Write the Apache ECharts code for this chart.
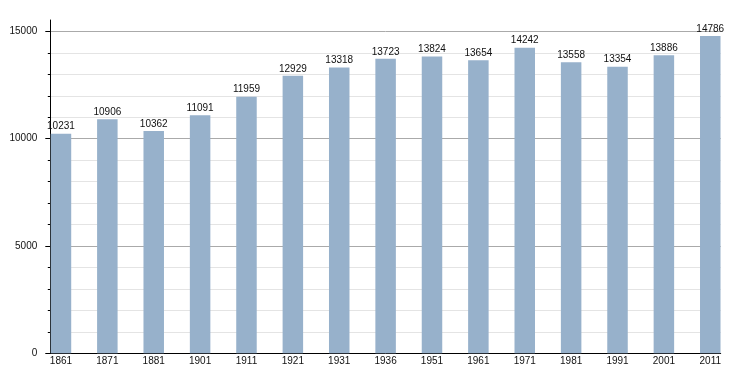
<!DOCTYPE html>
<html><head><meta charset="utf-8">
<script src="https://cdn.jsdelivr.net/npm/echarts@6/dist/echarts.min.js"></script>
<style>html,body{margin:0;padding:0;background:#fff}#c{width:750px;height:373px}</style>
</head><body><div id="c"></div>
<script>
var categories = ['1861','1871','1881','1901','1911','1921','1931','1936','1951','1961','1971','1981','1991','2001','2011'];
var population = [10231,10906,10362,11091,11959,12929,13318,13723,13824,13654,14242,13558,13354,13886,14786];
var majorTicks = [0,5000,10000,15000];
var minorTicks = [1000,2000,3000,4000,6000,7000,8000,9000,11000,12000,13000,14000];

var chart = echarts.init(document.getElementById('c'));
var font = 'Liberation Sans, Arial, sans-serif';
chart.setOption({
  animation: false,
  grid: {left: 50.3, right: 29.3, top: 20, bottom: 19.7, containLabel: false},
  xAxis: {
    type: 'value', min: -0.23, max: 14.225,
    splitLine: {show: false},
    axisLine: {show: true, onZero: false, lineStyle: {color: '#000', width: 1}},
    axisTick: {show: false},
    axisLabel: {
      customValues: categories.map(function(c, i){ return i; }),
      formatter: function(v){ return categories[Math.round(v)]; },
      color: '#111', fontSize: 10, fontFamily: font, margin: 3
    }
  },
  yAxis: [{
    type: 'value', min: 0, max: 15530, interval: 5000,
    axisLine: {show: true, onZero: false, lineStyle: {color: '#000', width: 1}},
    axisTick: {show: true, length: 5, customValues: majorTicks, lineStyle: {color: '#000'}},
    axisLabel: {customValues: majorTicks, formatter: function(v){ return String(v); }, color: '#111', fontSize: 10, fontFamily: font, margin: 13},
    splitLine: {show: true, lineStyle: {color: '#aaaaaa', width: 1}}
  }, {
    type: 'value', min: 0, max: 15530, interval: 1000, position: 'left',
    axisLine: {show: false, onZero: false},
    axisTick: {show: true, length: 2.5, customValues: minorTicks, lineStyle: {color: '#000'}},
    axisLabel: {show: false},
    splitLine: {show: true, lineStyle: {color: '#e4e4e4', width: 1}}
  }],
  series: [{
    type: 'bar', yAxisIndex: 0, barWidth: 20.5,
    data: population.map(function(v, i){ return [i, v]; }),
    itemStyle: {color: '#97b1cb'},
    label: {show: true, position: 'top', distance: 2, color: '#111', fontSize: 10, fontFamily: font}
  }]
});
</script></body></html>
